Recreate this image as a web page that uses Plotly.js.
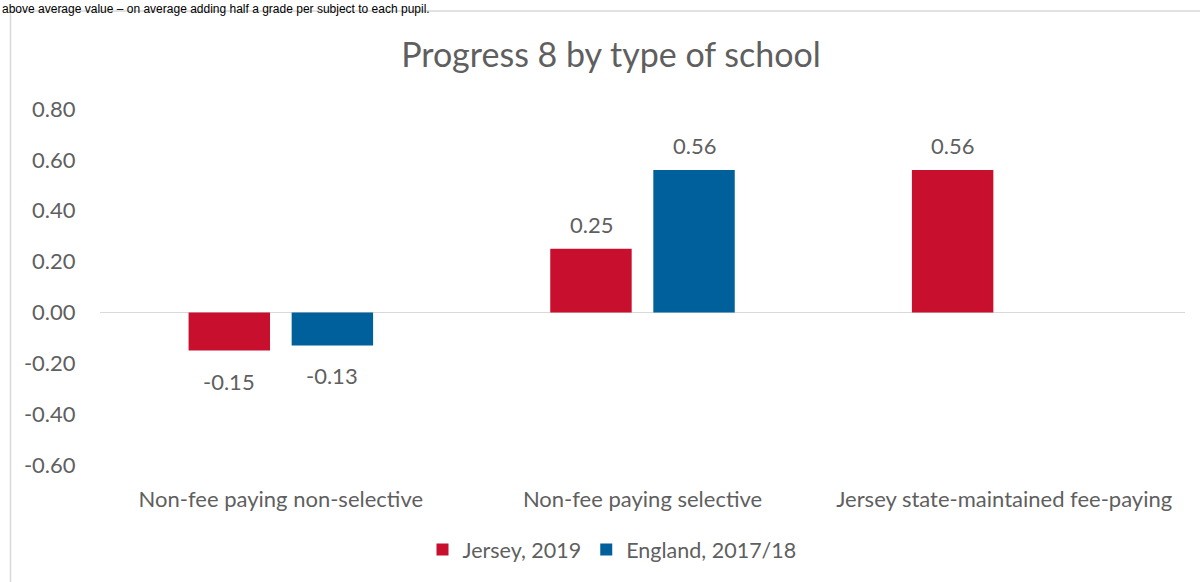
<!DOCTYPE html>
<html>
<head>
<meta charset="utf-8">
<script src="https://cdn.plot.ly/plotly-3.0.1.min.js"></script>
<style>html,body{margin:0;padding:0;background:#fff;}#chart{width:1200px;height:582px;}</style>
</head>
<body>
<div id="chart"></div>
<script>
const categories = ["Non-fee paying non-selective", "Non-fee paying selective", "Jersey state-maintained fee-paying"];
const jersey2019 = [-0.15, 0.25, 0.56];
const england1718 = [-0.13, 0.56, null];
const seriesNames = ["Jersey, 2019", "England, 2017/18"];
const yTicks = [-0.6, -0.4, -0.2, 0, 0.2, 0.4, 0.6, 0.8];
const chartTitle = "Progress 8 by type of school";
const aboveText = "above average value \u2013 on average adding half a grade per subject to each pupil.";

const RED = "#C8102E", BLUE = "#00609C";
const FONT = "Lato, 'Open Sans', sans-serif";
const GREY = "#5F5F5F";

const traces = [
  {type: "bar", name: seriesNames[0], x: categories, y: jersey2019, marker: {color: RED}, hoverinfo: "none"},
  {type: "bar", name: seriesNames[1], x: categories, y: england1718, marker: {color: BLUE}, hoverinfo: "none"}
];

const W = 1200, H = 582, L = 100, R = 15, T = 109, B = 115;
const pw = W - L - R, ph = H - T - B;
const px = v => (v - L) / pw;
const py = v => (H - B - v) / ph;

const annotations = [];
const series = [jersey2019, england1718];
const shifts = [-51.5, 51.5];
series.forEach((vals, s) => {
  vals.forEach((v, i) => {
    if (v === null) return;
    annotations.push({
      x: categories[i], y: v, xref: "x", yref: "y",
      text: v.toFixed(2), showarrow: false,
      xshift: shifts[s],
      yanchor: v >= 0 ? "bottom" : "top",
      yshift: v >= 0 ? 9 : -15,
      font: {family: FONT, size: 22, color: GREY}
    });
  });
});
annotations.push({
  x: px(0), y: py(-1), xref: "paper", yref: "paper", xanchor: "left", yanchor: "top",
  text: aboveText, showarrow: false,
  font: {family: "Arial, 'Liberation Sans', sans-serif", size: 12, color: "#000"}
});

const layout = {
  width: W, height: H,
  margin: {l: L, r: R, t: T, b: B, pad: 0},
  paper_bgcolor: "#fff", plot_bgcolor: "#fff",
  font: {family: FONT, color: GREY},
  title: {text: chartTitle, xref: "container", x: 611 / W, xanchor: "center", y: 1 - 55 / H, yanchor: "middle",
          font: {family: FONT, size: 34, color: GREY}},
  barmode: "group", bargap: 0.43, bargroupgap: 0.21,
  xaxis: {type: "category", showgrid: false, zeroline: false, showline: false,
          ticks: "outside", ticklen: 15, tickcolor: "rgba(0,0,0,0)",
          tickfont: {family: FONT, size: 22, color: GREY}, fixedrange: true},
  yaxis: {range: [-0.6, 0.8], tickvals: yTicks, ticktext: yTicks.map(v => v.toFixed(2)),
          showgrid: false, zeroline: true, zerolinecolor: "#D9D9D9", zerolinewidth: 1.5,
          showline: false, ticks: "outside", ticklen: 19, tickcolor: "rgba(0,0,0,0)",
          tickfont: {family: FONT, size: 22, color: GREY}, fixedrange: true},
  showlegend: true,
  legend: {orientation: "h", x: px(612), xanchor: "center", y: py(552), yanchor: "middle",
           font: {family: FONT, size: 21.5, color: GREY}, itemwidth: 30, traceorder: "normal"},
  annotations: annotations,
  shapes: [{type: "rect", xref: "paper", yref: "paper", x0: px(10.5), x1: px(1260), y0: py(10.5), y1: py(640),
            line: {color: "#D9D9D9", width: 1.5}, fillcolor: "rgba(0,0,0,0)", layer: "below"}]
};

Plotly.newPlot("chart", traces, layout, {displayModeBar: false, staticPlot: true});
</script>
</body>
</html>
